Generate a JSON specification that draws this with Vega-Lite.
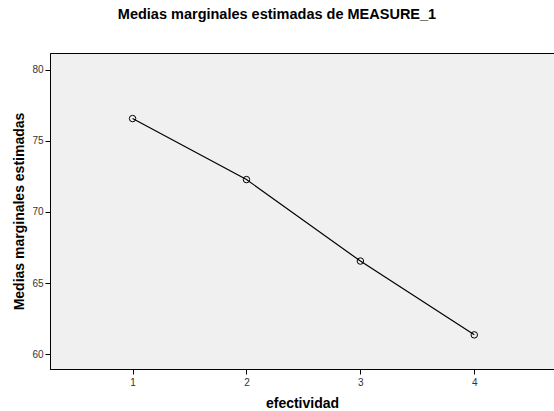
{
  "$schema": "https://vega.github.io/schema/vega-lite/v6.json",
  "autosize": "none",
  "padding": {"left": 50, "top": 53, "right": 0, "bottom": 42},
  "width": 504,
  "height": 316,
  "background": "white",
  "config": {
    "view": {"fill": "#f0f0f0", "stroke": "black", "strokeWidth": 1},
    "font": "Liberation Sans"
  },
  "title": {
    "text": "Medias marginales estimadas de MEASURE_1",
    "fontSize": 14.5,
    "fontWeight": "bold",
    "color": "black",
    "anchor": "middle",
    "dx": -25,
    "offset": 31
  },
  "data": {
    "values": [
      {"efectividad": 1, "media": 76.57},
      {"efectividad": 2, "media": 72.28},
      {"efectividad": 3, "media": 66.55},
      {"efectividad": 4, "media": 61.36}
    ]
  },
  "encoding": {
    "x": {
      "field": "efectividad",
      "type": "quantitative",
      "scale": {"domain": [0.275, 4.7], "nice": false, "zero": false},
      "axis": {
        "values": [1, 2, 3, 4],
        "title": "efectividad",
        "titleFontSize": 14,
        "titleFontWeight": "bold",
        "titleColor": "black",
        "titlePadding": 9,
        "labelFontSize": 10,
        "labelColor": "#333333",
        "domainColor": "black",
        "tickColor": "black",
        "tickSize": 5,
        "grid": false,
        "labelPadding": 3
      }
    },
    "y": {
      "field": "media",
      "type": "quantitative",
      "scale": {"domain": [58.96, 81.18], "nice": false, "zero": false},
      "axis": {
        "values": [60, 65, 70, 75, 80],
        "title": "Medias marginales estimadas",
        "titleFontSize": 14,
        "titleFontWeight": "bold",
        "titleColor": "black",
        "titlePadding": 5,
        "labelFontSize": 10,
        "labelColor": "#333333",
        "domainColor": "black",
        "tickColor": "black",
        "tickSize": 5,
        "grid": false,
        "labelPadding": 2
      }
    }
  },
  "layer": [
    {"mark": {"type": "line", "color": "black", "strokeWidth": 1.2}},
    {"mark": {"type": "point", "shape": "circle", "filled": false, "color": "black", "size": 42, "strokeWidth": 1, "opacity": 1}}
  ]
}
